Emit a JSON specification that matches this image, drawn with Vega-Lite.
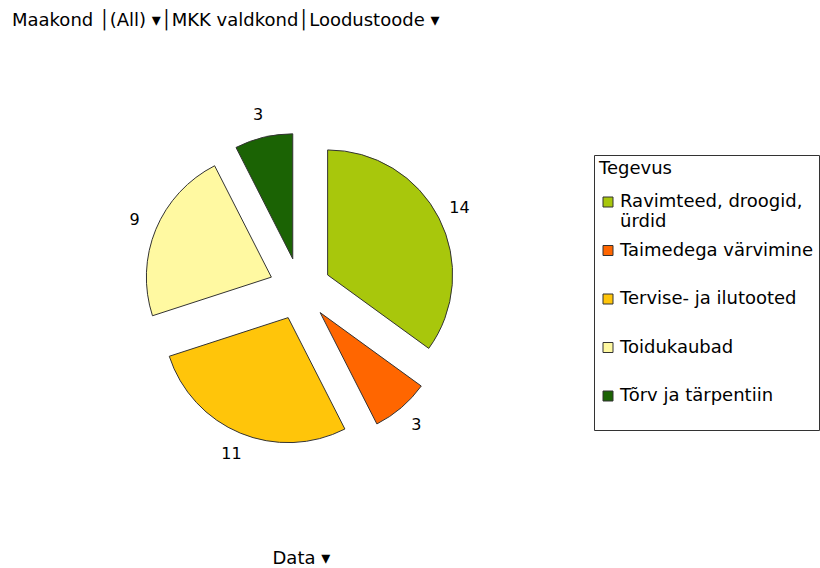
{
  "$schema": "https://vega.github.io/schema/vega-lite/v6.json",
  "width": 600,
  "height": 498,
  "autosize": {"type": "none"},
  "padding": {"left": 0, "top": 40, "right": 220, "bottom": 30},
  "background": "white",
  "config": {"font": "DejaVu Sans", "view": {"stroke": null}},
  "title": {"text": "Maakond │(All) ▾│MKK valdkond│Loodustoode ▾", "anchor": "start", "frame": "group", "dx": 12, "offset": 10, "fontSize": 18, "fontWeight": "normal", "color": "black"},
  "data": {"values": [
    {"Tegevus": "Ravimteed, droogid, ürdid", "value": 14},
    {"Tegevus": "Taimedega värvimine", "value": 3},
    {"Tegevus": "Tervise- ja ilutooted", "value": 11},
    {"Tegevus": "Toidukaubad", "value": 9},
    {"Tegevus": "Tõrv ja tärpentiin", "value": 3}
  ]},
  "layer": [
    {
      "mark": {"type": "arc", "outerRadius": 125, "stroke": "#333", "strokeWidth": 1,
        "xOffset": {"expr": "31*sin(scale('theta',(datum.value_start+datum.value_end)/2))"},
        "yOffset": {"expr": "-31*cos(scale('theta',(datum.value_start+datum.value_end)/2))"}},
      "encoding": {
        "theta": {"field": "value", "type": "quantitative", "stack": true},
        "order": {"field": "Tegevus", "sort": "ascending"},
        "color": {"field": "Tegevus", "type": "nominal",
          "scale": {"domain": ["Ravimteed, droogid, ürdid", "Taimedega värvimine", "Tervise- ja ilutooted", "Toidukaubad", "Tõrv ja tärpentiin"],
                    "range": ["#a8c70c", "#ff6600", "#ffc50a", "#fff9a1", "#1b6304"]},
          "legend": {"orient": "none", "legendX": 594, "legendY": 115, "title": "Tegevus",
            "fillColor": "white", "strokeColor": "#333", "padding": 5,
            "titleFontSize": 18, "titleFontWeight": "normal", "titleColor": "black", "titlePadding": 15,
            "labelFontSize": 18, "labelColor": "black", "labelLimit": 400, "labelOffset": 3,
            "labelExpr": "datum.label == 'Ravimteed, droogid, ürdid' ? ['Ravimteed, droogid,', 'ürdid'] : [datum.label, '']",
            "symbolType": "square", "symbolSize": 100, "symbolStrokeColor": "#333", "symbolStrokeWidth": 1,
            "rowPadding": 10.5}}
      }
    },
    {
      "mark": {"type": "text", "radius": 179, "fontSize": 16, "color": "black"},
      "encoding": {
        "theta": {"field": "value", "type": "quantitative", "stack": true},
        "order": {"field": "Tegevus", "sort": "ascending"},
        "detail": {"field": "Tegevus", "type": "nominal"},
        "text": {"field": "value", "type": "quantitative"}
      }
    },
    {
      "mark": {"type": "rule", "opacity": 0},
      "encoding": {
        "x": {"field": "value", "type": "quantitative",
          "axis": {"title": "Data ▾", "labels": false, "ticks": false, "domain": false, "grid": false,
            "titleFontSize": 18, "titleFontWeight": "normal", "titleColor": "black",
            "titleAlign": "left", "titleBaseline": "middle", "titleX": 272, "titleY": 20}}
      }
    }
  ]
}
